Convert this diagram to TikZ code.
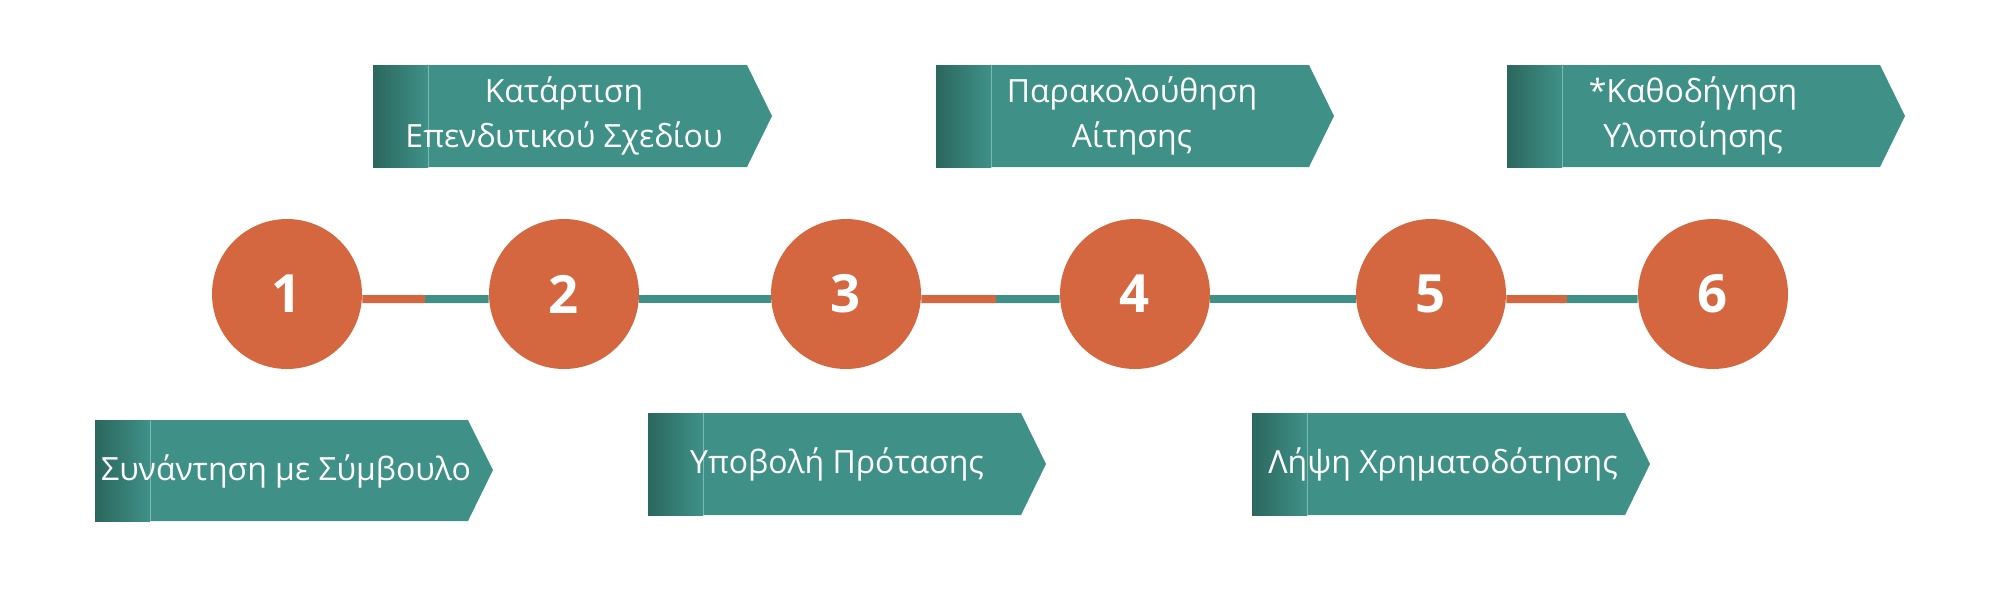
\documentclass[tikz,border=0pt]{standalone}
\usepackage{fontspec}
\setmainfont{Open Sans}

\definecolor{stepteal}{HTML}{3F9188}
\definecolor{steporange}{HTML}{D4673F}
\definecolor{stepdark}{HTML}{2B675E}
\definecolor{stepline}{HTML}{7DB8B0}

\tikzset{
    num/.style={circle, fill=steporange, minimum size=3cm, inner sep=0pt,
        text=white, font=\fontsize{30}{30}\selectfont\bfseries},
    banner/.style={fill=stepteal},
    band/.style={left color=stepdark, right color=stepteal},
    bannertext/.style={text=white, align=center, font=\fontsize{18.2}{25.6}\selectfont},
    link/.style={line width=0.16cm, stepteal},
    linkhot/.style={line width=0.16cm, steporange}
}

\begin{document}
\begin{tikzpicture}[x=0.02cm, y=-0.02cm]
            \useasboundingbox (0,0) rectangle (2000,600);

            % top banners
            \fill[banner] (373,65) -- (747,65) -- (772,116) -- (747,167) -- (373,167) -- cycle;
            \shade[band] (373,65) rectangle (428,167);
            \draw[stepline, line width=0.02cm] (428,65) -- (428,167);

            \fill[banner] (936,65) -- (1309,65) -- (1334,116) -- (1309,167) -- (936,167) -- cycle;
            \shade[band] (936,65) rectangle (991,167);
            \draw[stepline, line width=0.02cm] (991,65) -- (991,167);

            \fill[banner] (1507,65) -- (1880,65) -- (1905,116) -- (1880,167) -- (1507,167) -- cycle;
            \shade[band] (1507,65) rectangle (1562,167);
            \draw[stepline, line width=0.02cm] (1562,65) -- (1562,167);

            % bottom banners
            \fill[banner] (95,420) -- (468,420) -- (493,470) -- (468,521) -- (95,521) -- cycle;
            \shade[band] (95,420) rectangle (150,521);
            \draw[stepline, line width=0.02cm] (150,420) -- (150,521);

            \fill[banner] (648,413) -- (1021,413) -- (1046,464) -- (1021,515) -- (648,515) -- cycle;
            \shade[band] (648,413) rectangle (703,515);
            \draw[stepline, line width=0.02cm] (703,413) -- (703,515);

            \fill[banner] (1252,413) -- (1625,413) -- (1650,464) -- (1625,515) -- (1252,515) -- cycle;
            \shade[band] (1252,413) rectangle (1307,515);
            \draw[stepline, line width=0.02cm] (1307,413) -- (1307,515);

            \node[bannertext] (t1) at (286,471) {Συνάντηση με Σύμβουλο};
            \node[bannertext] (t2) at (564,116) {Κατάρτιση\\Επενδυτικού Σχεδίου};
            \node[bannertext] (t3) at (837,464) {Υποβολή Πρότασης};
            \node[bannertext] (t4) at (1132,116) {Παρακολούθηση\\Αίτησης};
            \node[bannertext] (t5) at (1443,464) {Λήψη Χρηματοδότησης};
            \node[bannertext] (t6) at (1693,116) {*Καθοδήγηση\\Υλοποίησης};

            % steps
            \foreach \i/\x in {1/287,2/564,3/846,4/1135,5/1431,6/1713}
                \node[num] (c\i) at (\x,294) {\i};

            \coordinate (o1) at (425,299);
            \coordinate (o3) at (996,299);
            \coordinate (o5) at (1567,299);

            \draw[linkhot] ([yshift=-0.1cm]c1.east) -- (o1);
            \draw[link] (o1) -- ([yshift=-0.1cm]c2.west);
            \draw[link] ([yshift=-0.1cm]c2.east) -- ([yshift=-0.1cm]c3.west);
            \draw[linkhot] ([yshift=-0.1cm]c3.east) -- (o3);
            \draw[link] (o3) -- ([yshift=-0.1cm]c4.west);
            \draw[link] ([yshift=-0.1cm]c4.east) -- ([yshift=-0.1cm]c5.west);
            \draw[linkhot] ([yshift=-0.1cm]c5.east) -- (o5);
            \draw[link] (o5) -- ([yshift=-0.1cm]c6.west);
        \end{tikzpicture}
\end{document}
